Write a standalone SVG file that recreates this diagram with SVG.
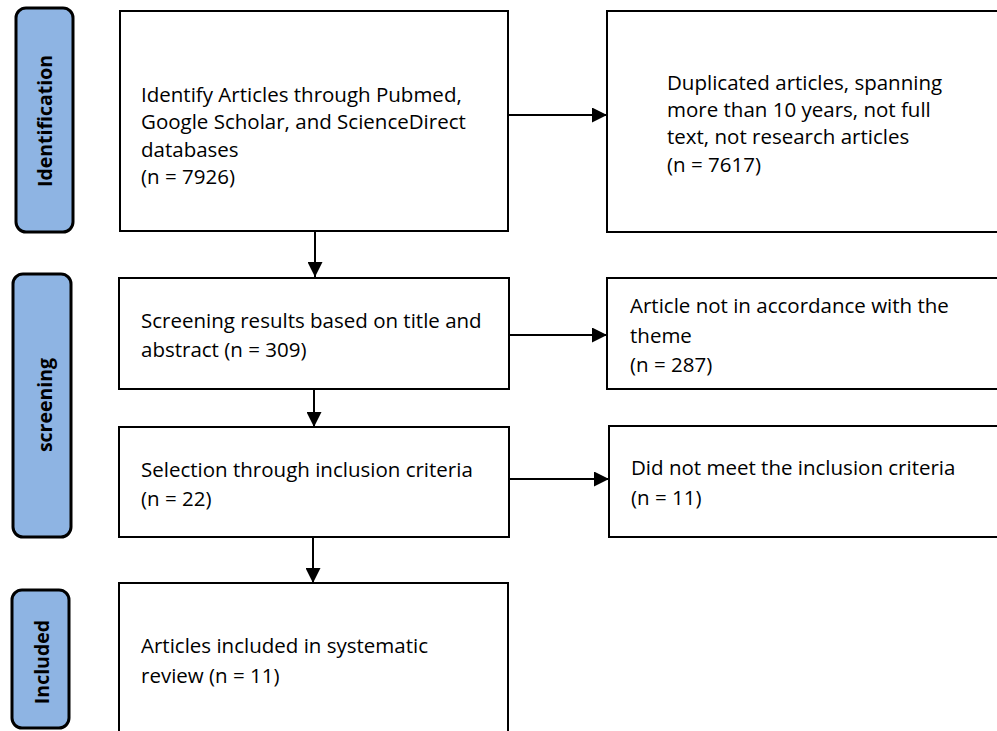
<svg xmlns="http://www.w3.org/2000/svg" width="997" height="731" viewBox="0 0 997 731">
<style>
.pill{fill:#8EB4E3;stroke:#000;stroke-width:3}
.box{fill:#fff;stroke:#000;stroke-width:2}
.t{font-family:"Open Sans","Liberation Sans",sans-serif;font-size:20.5px;fill:#000}
.pt{font-family:"Open Sans","Liberation Sans",sans-serif;font-size:19.5px;font-weight:bold;fill:#000;text-anchor:middle}
.c{stroke:#000;stroke-width:2;fill:none}
</style>
<defs>
<marker id="ah" viewBox="0 0 10 10" refX="10" refY="5" markerWidth="15" markerHeight="15" markerUnits="userSpaceOnUse" orient="auto">
<path d="M0,0 L10,5 L0,10 Z" fill="#000"/>
</marker>
</defs>
<rect width="997" height="731" fill="#fff"/>
<g id="stage-identification">
<rect class="pill" x="16" y="8" width="57" height="224" rx="10"/>
<text class="pt" transform="translate(52,121) rotate(-90)">Identification</text>
</g>
<g id="stage-screening">
<rect class="pill" x="13" y="274" width="58" height="263" rx="10"/>
<text class="pt" transform="translate(52,405) rotate(-90)">screening</text>
</g>
<g id="stage-included">
<rect class="pill" x="12" y="590" width="57" height="138" rx="10"/>
<text class="pt" transform="translate(49,662) rotate(-90)">Included</text>
</g>
<g id="n-identify">
<rect class="box" x="120" y="11" width="388" height="220"/>
<text class="t" x="141" y="102">Identify Articles through Pubmed,</text>
<text class="t" x="141" y="129">Google Scholar, and ScienceDirect</text>
<text class="t" x="141" y="157">databases</text>
<text class="t" x="141" y="184">(n = 7926)</text>
</g>
<g id="n-duplicated">
<rect class="box" x="607" y="11" width="400" height="221"/>
<text class="t" x="667" y="90">Duplicated articles, spanning</text>
<text class="t" x="667" y="117">more than 10 years, not full</text>
<text class="t" x="667" y="144">text, not research articles</text>
<text class="t" x="667" y="172">(n = 7617)</text>
</g>
<g id="n-screening">
<rect class="box" x="119" y="278" width="390" height="111"/>
<text class="t" x="141" y="328">Screening results based on title and</text>
<text class="t" x="141" y="357">abstract (n = 309)</text>
</g>
<g id="n-notheme">
<rect class="box" x="607" y="278" width="400" height="111"/>
<text class="t" x="630" y="313">Article not in accordance with the</text>
<text class="t" x="630" y="343">theme</text>
<text class="t" x="630" y="372">(n = 287)</text>
</g>
<g id="n-selection">
<rect class="box" x="119" y="427" width="390" height="110"/>
<text class="t" x="141" y="477">Selection through inclusion criteria</text>
<text class="t" x="141" y="506">(n = 22)</text>
</g>
<g id="n-notmeet">
<rect class="box" x="609" y="426" width="400" height="111"/>
<text class="t" x="631" y="475">Did not meet the inclusion criteria</text>
<text class="t" x="631" y="505">(n = 11)</text>
</g>
<g id="n-included">
<rect class="box" x="119" y="583" width="389" height="160"/>
<text class="t" x="141" y="653">Articles included in systematic</text>
<text class="t" x="141" y="683">review (n = 11)</text>
</g>
<g id="connectors">
<line class="c" x1="508" y1="115" x2="607" y2="115" marker-end="url(#ah)"/>
<line class="c" x1="315" y1="231" x2="315" y2="277" marker-end="url(#ah)"/>
<line class="c" x1="509" y1="335" x2="607" y2="335" marker-end="url(#ah)"/>
<line class="c" x1="314" y1="389" x2="314" y2="427" marker-end="url(#ah)"/>
<line class="c" x1="509" y1="479" x2="609" y2="479" marker-end="url(#ah)"/>
<line class="c" x1="313" y1="537" x2="313" y2="583" marker-end="url(#ah)"/>
</g>
</svg>
